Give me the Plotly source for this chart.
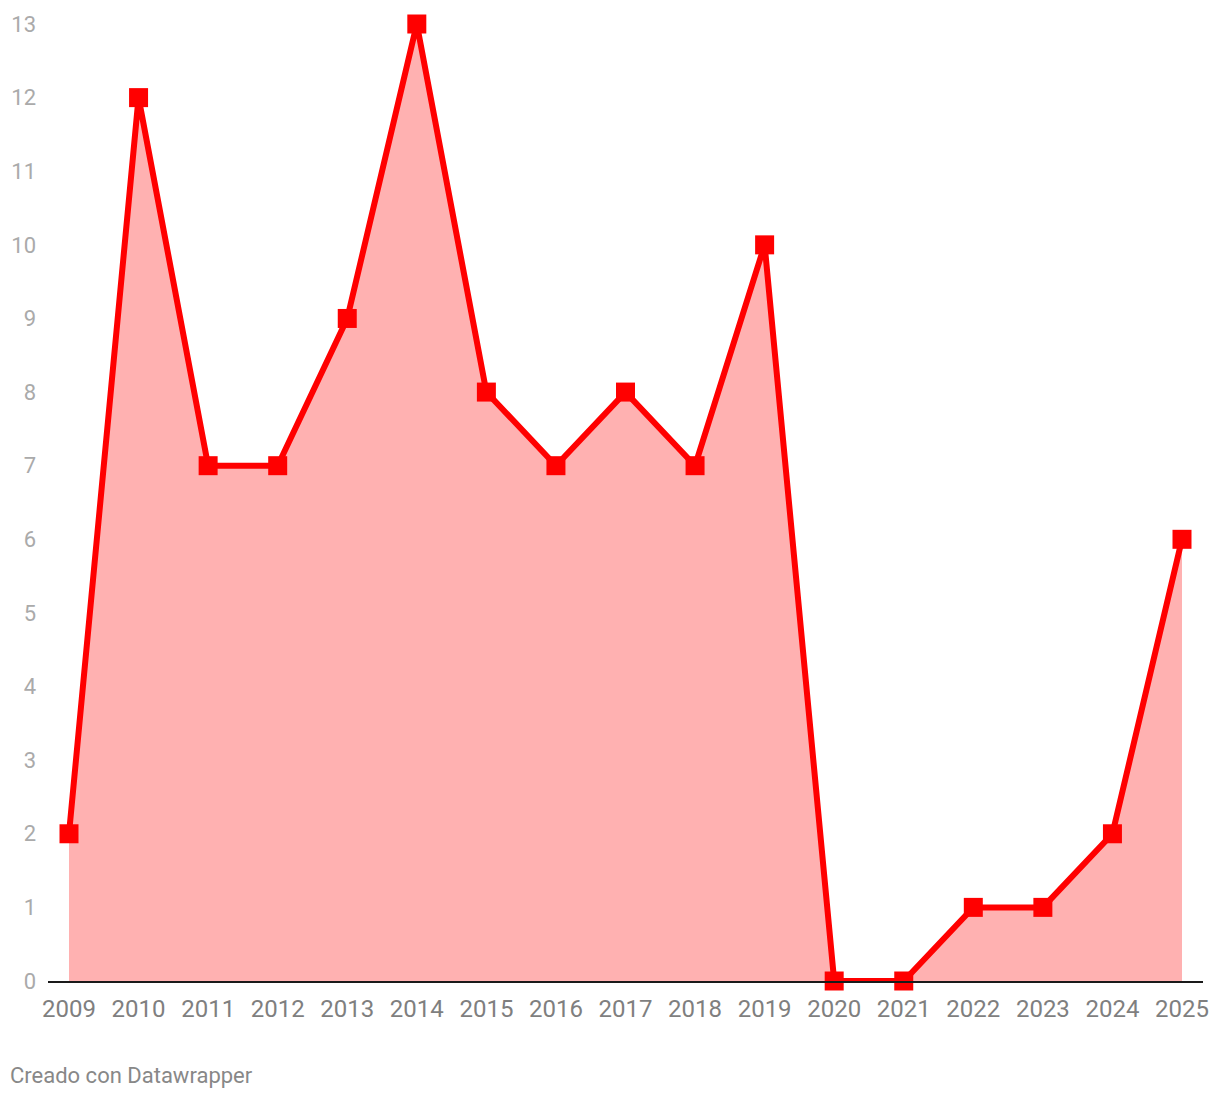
import plotly.graph_objects as go

years = list(range(2009, 2026))
values = [2, 12, 7, 7, 9, 13, 8, 7, 8, 7, 10, 0, 0, 1, 1, 2, 6]
y_ticks = list(range(0, 14))

fig = go.Figure()
fig.add_trace(go.Scatter(
    x=years, y=values,
    mode="lines+markers",
    fill="tozeroy",
    fillcolor="#ffb1b1",
    line=dict(color="#ff0000", width=6),
    marker=dict(symbol="square", size=19, color="#ff0000"),
    cliponaxis=False,
    hoverinfo="x+y",
))

# page body has an 8px margin, so the figure is a bit smaller than the window
fig.update_layout(
    width=1212, height=1090,
    margin=dict(l=40, r=17, t=6, b=117),
    plot_bgcolor="white", paper_bgcolor="white",
    font=dict(family="Roboto", size=22),
    showlegend=False,
    xaxis=dict(
        range=[2009 - 21 / 69.56, 2025 + 21 / 69.56],
        tickmode="array", tickvals=years, ticktext=[str(y) for y in years],
        showgrid=False, zeroline=False, automargin=False,
        showline=True, linecolor="#1a1a1a", linewidth=2,
        ticks="", ticklabelstandoff=5,
        tickfont=dict(color="#7f7f7f", size=24),
    ),
    yaxis=dict(
        range=[0, 13 * 967 / 957],
        tickmode="array", tickvals=y_ticks,
        showgrid=False, zeroline=False, showline=False, automargin=False,
        ticks="", ticklabelstandoff=11,
        tickfont=dict(color="#aaaaaa", size=22),
    ),
    annotations=[dict(
        text="Creado con Datawrapper", xref="paper", yref="paper",
        x=0, y=0, xanchor="left", yanchor="top", xshift=-40, yshift=-80,
        showarrow=False, font=dict(color="#888888", size=22),
    )],
)

fig.write_html("out.html")
